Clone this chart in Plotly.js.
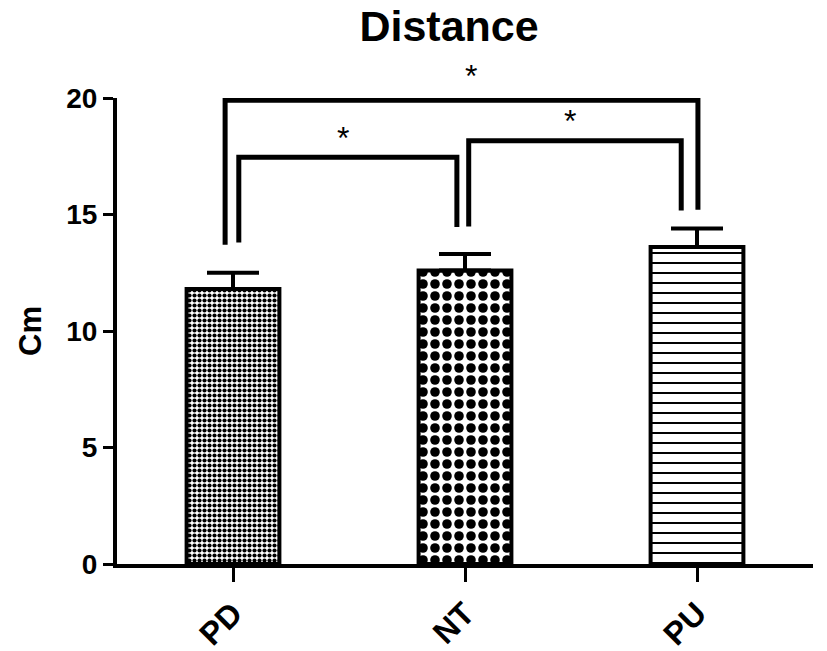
<!DOCTYPE html>
<html>
<head>
<meta charset="utf-8">
<script src="https://cdn.plot.ly/plotly-3.0.1.min.js"></script>
<style>html,body{margin:0;padding:0;background:#fff;}#chart{width:827px;height:651px;}</style>
</head>
<body>
<div id="chart"></div>
<script>
// ---- data ----
const categories = ['PD', 'NT', 'PU'];
const means = [11.8, 12.6, 13.6];
const sem = [0.7, 0.7, 0.8];
const yTicks = [0, 5, 10, 15, 20];
const chartTitle = 'Distance';
const yTitle = 'Cm';

// significance brackets
const bracketLeft = [0, 1, 0];
const bracketRight = [1, 2, 2];
const bracketLeftOff = [0.025, 0.016, -0.034];
const bracketRightOff = [-0.035, -0.068, 0.004];
const bracketTop = [17.46, 18.17, 19.9];
const bracketLeftBottom = [13.8, 14.49, 13.7];
const bracketRightBottom = [14.46, 15.17, 15.2];
const starX = [0.472, 1.454, 1.024];
const starY = [18.3, 19.0, 20.95];
const starLabel = ['*', '*', '*'];

const FONT = 'Liberation Sans, Arial, sans-serif';
const Y_MAX = 20;

const patterns = [
  {shape: '.', size: 5, solidity: 0.55, fgcolor: '#000', bgcolor: '#fff', fillmode: 'replace'},
  {shape: '.', size: 12, solidity: 0.5, fgcolor: '#000', bgcolor: '#fff', fillmode: 'replace'},
  {shape: '-', size: 10, solidity: 0.2, fgcolor: '#000', bgcolor: '#fff', fillmode: 'replace'}
];

const traces = categories.map((c, i) => ({
  type: 'bar',
  x: [i],
  y: [means[i]],
  width: 0.4,
  marker: {color: '#fff', line: {color: '#000', width: 4}, pattern: patterns[i]},
  error_y: {type: 'data', symmetric: false, array: [sem[i]], arrayminus: [0], color: '#000', thickness: 4, width: 26},
  showlegend: false,
  hoverinfo: 'skip'
}));

const shapes = bracketLeft.map((l, k) => {
  const x0 = l + bracketLeftOff[k];
  const x1 = bracketRight[k] + bracketRightOff[k];
  return {
    type: 'path', xref: 'x', yref: 'y', layer: 'above',
    path: `M ${x0},${bracketLeftBottom[k]} L ${x0},${bracketTop[k]} L ${x1},${bracketTop[k]} L ${x1},${bracketRightBottom[k]}`,
    line: {color: '#000', width: 5}
  };
});

const annotations = starX.map((x, k) => ({
  x: x, y: starY[k] / Y_MAX, xref: 'x', yref: 'paper', text: starLabel[k], showarrow: false,
  font: {family: FONT, size: 32, color: '#000'}, xanchor: 'center', yanchor: 'middle'
}));

const layout = {
  width: 827, height: 651,
  margin: {l: 117, r: 14, t: 98, b: 87, pad: 0},
  paper_bgcolor: '#fff', plot_bgcolor: '#fff',
  font: {family: FONT, color: '#000'},
  title: {text: chartTitle, font: {family: FONT, size: 43, weight: 'bold', color: '#000'},
          x: 0.543, xref: 'container', xanchor: 'center', y: 0.96, yref: 'container', yanchor: 'middle'},
  xaxis: {
    type: 'linear', range: [-0.5, 2.5], tickvals: [0, 1, 2], ticktext: categories,
    showline: true, linecolor: '#000', linewidth: 4, showgrid: false, zeroline: false,
    ticks: 'outside', ticklen: 14, tickwidth: 3, tickcolor: '#000', tickangle: -45,
    tickfont: {family: FONT, size: 32, weight: 'bold', color: '#000'}, fixedrange: true
  },
  yaxis: {
    range: [0, Y_MAX], tickvals: yTicks, showline: true, linecolor: '#000', linewidth: 4,
    showgrid: false, zeroline: false, ticks: 'outside', ticklen: 10, tickwidth: 3, tickcolor: '#000',
    tickfont: {family: FONT, size: 28, weight: 'bold', color: '#000'},
    title: {text: yTitle, font: {family: FONT, size: 31, weight: 'bold', color: '#000'}, standoff: 16},
    fixedrange: true
  },
  shapes: shapes,
  annotations: annotations
};

Plotly.newPlot('chart', traces, layout, {staticPlot: true, displayModeBar: false});
</script>
</body>
</html>
